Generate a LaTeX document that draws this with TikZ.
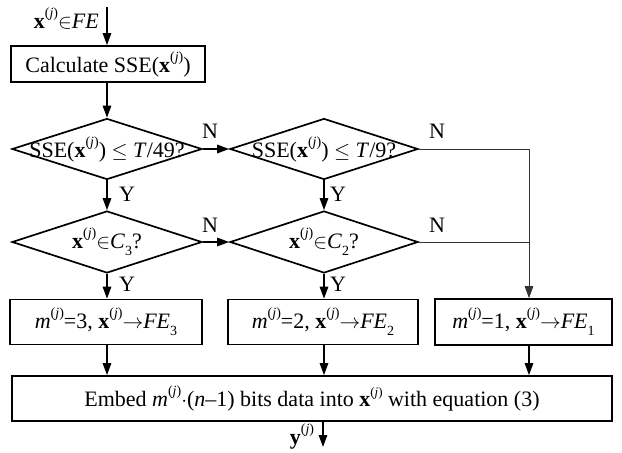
\documentclass[tikz,border=0pt]{standalone}
\usepackage{fontspec}
\setmainfont{Liberation Serif}
\usetikzlibrary{shapes.geometric,arrows.meta}
\newcommand{\supj}{\raisebox{0.5em}{\fontsize{14}{14}\selectfont(\textit{j})}}
\newcommand{\subn}[1]{\raisebox{-0.33em}{\fontsize{14}{14}\selectfont #1}}
\newcommand{\xj}{\textbf{x}\supj}
\begin{document}
\begin{tikzpicture}[x=1pt,y=-1pt,
  every node/.style={font=\fontsize{22}{24}\selectfont},
  procbox/.style={draw,line width=1.7pt,inner sep=0pt},
  dia/.style={draw,diamond,line width=1.7pt,inner sep=0pt,minimum width=190pt,minimum height=61pt},
  arr/.style={-{Triangle[length=12pt,width=8.5pt]},line width=1.4pt},
  thinline/.style={line width=0.8pt,draw=black!80},
  lbl/.style={inner sep=0pt}]
\useasboundingbox (0,0) rectangle (622,453);
% nodes
\node[lbl,anchor=east] (inlbl) at (99,19) {\xj$\in$\textit{FE}};
\coordinate (start) at (107,7);
\node[procbox,minimum width=194pt,minimum height=36pt] (calc) at (108,64) {Calculate SSE(\xj)};
\node[dia] (d1) at (107,149) {};
\node[lbl] at (d1) {SSE(\xj) $\leq$ \textit{T}/49?};
\node[dia,minimum width=188pt] (d2) at (324,149) {};
\node[lbl] at (d2) {SSE(\xj) $\leq$ \textit{T}/9?};
\node[dia,minimum height=62pt] (d3) at (107,242) {};
\node[lbl] at (d3) {\xj$\in$\textit{C}\subn{3}?};
\node[dia,minimum width=188pt,minimum height=62pt] (d4) at (324,242) {};
\node[lbl] at (d4) {\xj$\in$\textit{C}\subn{2}?};
\node[procbox,minimum width=192pt,minimum height=45pt] (b1) at (106,322) {\textit{m}\supj=3, \xj$\rightarrow$\textit{FE}\subn{3}};
\node[procbox,minimum width=190pt,minimum height=45pt] (b2) at (323,322) {\textit{m}\supj=2, \xj$\rightarrow$\textit{FE}\subn{2}};
\node[procbox,minimum width=177pt,minimum height=46pt] (b3) at (523.5,322) {\textit{m}\supj=1, \xj$\rightarrow$\textit{FE}\subn{1}};
\node[procbox,minimum width=600pt,minimum height=45pt] (big) at (312,398.5) {Embed \textit{m}\supj$\cdot$(\textit{n}--1) bits data into \textbf{x}\raisebox{0.45em}{\fontsize{13}{13}\selectfont(\textit{j})} with equation (3)};
\coordinate (j1) at (529,149);
\coordinate (j2) at (529,242);
\coordinate (out) at (323,447);
\node[lbl] (outlbl) at (302,437) {\textbf{y}\supj};
% labels
\node[lbl] (n1) at (210,131) {N};
\node[lbl] (n2) at (437,131) {N};
\node[lbl] (n3) at (210,225) {N};
\node[lbl] (n4) at (437,225) {N};
\node[lbl] (y1) at (127,194) {Y};
\node[lbl] (y2) at (338,194) {Y};
\node[lbl] (y3) at (127,284) {Y};
\node[lbl] (y4) at (338,284) {Y};
% connectors
\draw[arr] (start) -- (start |- calc.north);
\draw[arr] (calc.south -| d1.north) -- (d1.north);
\draw[arr] (d1.east) -- (d2.west);
\draw[arr] (d3.east) -- (d4.west);
\draw[arr] (d1.south) -- (d3.north);
\draw[arr] (d2.south) -- (d4.north);
\draw[arr] (d3.south) -- (d3.south |- b1.north);
\draw[arr] (d4.south) -- (d4.south |- b2.north);
\draw[thinline] (d2.east) -- (j1);
\draw[thinline] (d4.east) -- (j2);
\draw[thinline,-{Triangle[length=12pt,width=8.5pt]}] (j1) -- (j1 |- b3.north);
\draw[arr] (b1.south -| d3.south) -- (d3.south |- big.north);
\draw[arr] (b2.south -| d4.south) -- (d4.south |- big.north);
\draw[arr] (b3.south -| j1) -- (j1 |- big.north);
\draw[arr] (big.south -| out) -- (out);
\end{tikzpicture}
\end{document}
